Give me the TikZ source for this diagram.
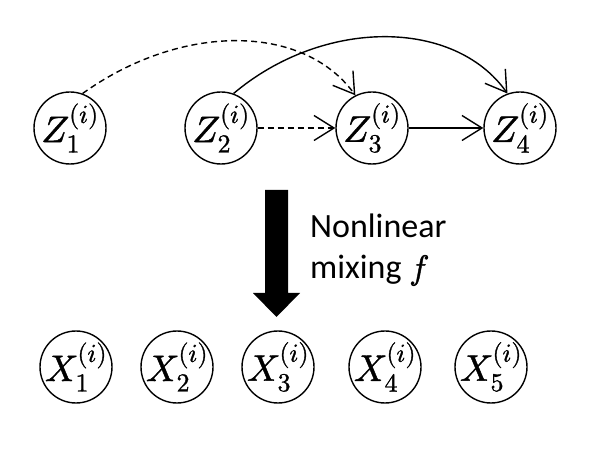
\documentclass[tikz,border=0pt]{standalone}
\usepackage{fontspec}
\usepackage{unicode-math}
\setmainfont{Carlito}
\setmathfont{Latin Modern Math}[FakeBold=1.2]
\usetikzlibrary{arrows.meta}
\begin{document}
\begin{tikzpicture}[x=1pt,y=1pt,
  var/.style={circle,draw,line width=1.4pt,minimum size=72pt,inner sep=-10pt,
    font=\fontsize{37}{40}\selectfont},
  edge/.style={line width=1.4pt,-{Straight Barb[length=20pt,width=25pt,line width=1.4pt]}},
  dedge/.style={edge,dash pattern=on 6pt off 4pt},
  lbl/.style={anchor=base west,inner sep=0pt,font=\fontsize{34}{38}\selectfont}]
\useasboundingbox (0,0) rectangle (600,450);
% latent variables
\node[var] (Z1) at (70,322) {$Z_1^{(i)}$};
\node[var] (Z2) at (221,322) {$Z_2^{(i)}$};
\node[var] (Z3) at (372,322) {$Z_3^{(i)}$};
\node[var] (Z4) at (520,322) {$Z_4^{(i)}$};
% observed variables
\node[var] (X1) at (76,83) {$X_1^{(i)}$};
\node[var] (X2) at (177,83) {$X_2^{(i)}$};
\node[var] (X3) at (278,83) {$X_3^{(i)}$};
\node[var] (X4) at (385,83) {$X_4^{(i)}$};
\node[var] (X5) at (491,83) {$X_5^{(i)}$};
% edges
\draw[dedge] (Z1.70) .. controls (181,427) and (303,427) .. (Z3.117);
\draw[edge] (Z2.70) .. controls (323,432) and (454,432) .. (Z4.110);
\draw[dedge] (Z2) -- (Z3);
\draw[edge] (Z3) -- (Z4);
% big arrow
\fill (265,260) -- (288,260) -- (288,157) -- (300,157) -- (276.5,133)
  -- (253,157) -- (265,157) -- cycle;
\node[lbl] (t1) at (310,212) {Nonlinear};
\node[lbl] (t2) at (310,171) {mixing $f$};
\end{tikzpicture}
\end{document}
